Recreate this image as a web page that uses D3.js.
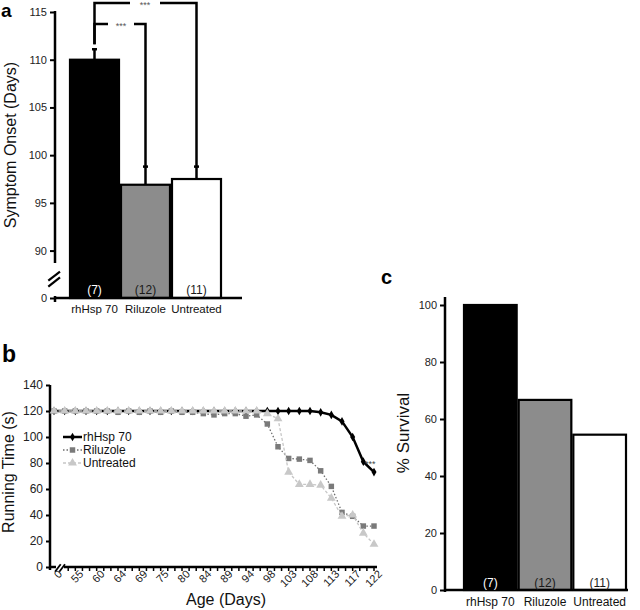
<!DOCTYPE html>
<html><head><meta charset="utf-8">
<script src="https://cdn.jsdelivr.net/npm/d3@7"></script>
<style>
body{margin:0;background:#fff}
svg{display:block}
text{font-family:"Liberation Sans",Arial,Helvetica,sans-serif}
</style>
</head><body>
<svg id="chart" width="640" height="610"></svg>
<script>
// ---------- DATA ----------
const groups = ["rhHsp 70", "Riluzole", "Untreated"];
const groupN = ["(7)", "(12)", "(11)"];
const onsetMean = [110, 96.9, 97.5];
const onsetSem = [1.1, 1.9, 1.3];
const onsetTicks = [0, 90, 95, 100, 105, 110, 115];
const survival = [100, 66.7, 54.5];
const survivalTicks = [0, 20, 40, 60, 80, 100];
const ageLabels = ["0","55","60","64","69","75","80","84","89","94","98","103","108","113","117","122"];
const runTicks = [0, 20, 40, 60, 80, 100, 120, 140];
const runHsp = [120,120,120,120,120,120,120,120,120,120,120,120,120,120,120,120,120,120,120,120,120,120,120,120,120,119,117,112,100,81,73];
const runRil = [120,120,120,120,120,120,119,120,119,120,119,120,119,119,118,117,118,118,116,117,110,92.5,83.5,83,82,74,62,42,39,31.5,31.5];
const runUnt = [120,120,120,120,120,120,120,120,120,120,120,120,120,120,120,120,120,120,120,120,118,114,73,63.5,63.5,63,53,39,40,26,17.5];
const seriesNames = ["rhHsp 70", "Riluzole", "Untreated"];

// ---------- STYLE ----------
const barFills = ["#000000", "#8c8c8c", "#ffffff"];
const nColors = ["#ffffff", "#1a1a1a", "#1a1a1a"];
const svg = d3.select("#chart");
const AXW = 2.5;

function styleAxis(g, fs) {
  g.select(".domain").remove();
  g.selectAll(".tick line").attr("stroke", "#000").attr("stroke-width", 2);
  g.selectAll(".tick text").attr("fill", "#222").style("font-size", fs + "px")
   .style("font-family", '"Liberation Sans",Arial,sans-serif');
}

// ================= PANEL A =================
const xa = d3.scaleBand().domain(groups).range([69, 222]).padding(0);
const ya = d3.scaleLinear().domain([0, 88.7, 115]).range([298, 263, 12]);
const ga = svg.append("g");

ga.selectAll("rect.bar").data(groups).join("rect")
  .attr("x", d => xa(d) + 1)
  .attr("width", xa.bandwidth() - 2)
  .attr("y", (d, i) => ya(onsetMean[i]))
  .attr("height", (d, i) => ya(0) - ya(onsetMean[i]))
  .attr("fill", (d, i) => barFills[i])
  .attr("stroke", "#000").attr("stroke-width", 2.2);

// error bars (upper only)
groups.forEach((g, i) => {
  const cx = xa(g) + xa.bandwidth() / 2;
  ga.append("line").attr("x1", cx).attr("x2", cx)
    .attr("y1", ya(onsetMean[i])).attr("y2", ya(onsetMean[i] + onsetSem[i]))
    .attr("stroke", "#000").attr("stroke-width", 2.5);
  ga.append("line").attr("x1", cx - 2.5).attr("x2", cx + 2.5)
    .attr("y1", ya(onsetMean[i] + onsetSem[i])).attr("y2", ya(onsetMean[i] + onsetSem[i]))
    .attr("stroke", "#000").attr("stroke-width", 2.5);
});

// significance brackets
const c0 = xa(groups[0]) + xa.bandwidth() / 2;
const sigLevels = [113.75, 115.95];
[1, 2].forEach((j, k) => {
  const cj = xa(groups[j]) + xa.bandwidth() / 2;
  const yl = ya(sigLevels[k]);
  const yb = ya(onsetMean[j] + onsetSem[j]);
  const mid = k === 0 ? 121 : 145;
  const gap = k === 0 ? 13 : 15;
  const p = d3.path();
  p.moveTo(c0, ya(onsetMean[0] + onsetSem[0]) - 5); p.lineTo(c0, yl); p.lineTo(mid - gap, yl);
  p.moveTo(mid + gap, yl); p.lineTo(cj, yl); p.lineTo(cj, yb);
  ga.append("path").attr("d", p.toString()).attr("fill", "none")
    .attr("stroke", "#000").attr("stroke-width", 2.5);
  ga.append("text").attr("x", mid).attr("y", yl).attr("dy", "0.55em")
    .attr("text-anchor", "middle").style("font-size", "9px").attr("fill", "#555").text("***");
});

// axes
ga.append("line").attr("x1", 55).attr("x2", 55).attr("y1", ya(115) - 1).attr("y2", ya(88.7)).attr("stroke", "#000").attr("stroke-width", AXW);
ga.append("line").attr("x1", 55).attr("x2", 55).attr("y1", ya(0) - 2).attr("y2", ya(0) + 4).attr("stroke", "#000").attr("stroke-width", AXW);
ga.append("line").attr("x1", 54).attr("x2", 242).attr("y1", ya(0)).attr("y2", ya(0)).attr("stroke", "#000").attr("stroke-width", AXW);
[[48.3, 286.7, 60, 277.3], [48.3, 280.7, 60, 271.7]].forEach(b => {
  ga.append("line").attr("x1", b[0]).attr("y1", b[1]).attr("x2", b[2]).attr("y2", b[3]).attr("stroke", "#000").attr("stroke-width", 2.2);
});
const axA = ga.append("g").attr("transform", "translate(55,0)")
  .call(d3.axisLeft(ya).tickValues(onsetTicks).tickSize(5).tickPadding(3).tickFormat(d3.format("d")));
styleAxis(axA, 11);

ga.selectAll("text.n").data(groupN).join("text").attr("class", "n")
  .attr("x", (d, i) => xa(groups[i]) + xa.bandwidth() / 2).attr("y", 290).attr("dy", "0.35em")
  .attr("text-anchor", "middle").style("font-size", "12px").attr("fill", (d, i) => nColors[i]).text(d => d);
ga.selectAll("text.cat").data(groups).join("text").attr("class", "cat")
  .attr("x", d => xa(d) + xa.bandwidth() / 2).attr("y", 313)
  .attr("text-anchor", "middle").style("font-size", "11.5px").attr("fill", "#111").text(d => d);
ga.append("text").attr("transform", "translate(15.5,145) rotate(-90)").attr("text-anchor", "middle")
  .style("font-size", "16px").attr("fill", "#111").text("Symptom Onset (Days)");
ga.append("text").attr("x", 1).attr("y", 17).style("font-size", "19px").style("font-weight", "bold").text("a");

// ================= PANEL B =================
const xb = d3.scaleLinear().domain([0, 30]).range([54, 374]);
const yb = d3.scaleLinear().domain([0, 140]).range([567, 385]);
const gb = svg.append("g");

gb.append("text").attr("x", 2).attr("y", 362).style("font-size", "23px").style("font-weight", "bold").text("b");

// axes
gb.append("line").attr("x1", 50).attr("x2", 50).attr("y1", yb(140)).attr("y2", yb(0) + 3).attr("stroke", "#000").attr("stroke-width", AXW);
gb.append("line").attr("x1", 49).attr("x2", 56).attr("y1", yb(0)).attr("y2", yb(0)).attr("stroke", "#000").attr("stroke-width", AXW);
gb.append("line").attr("x1", 64).attr("x2", 377).attr("y1", yb(0)).attr("y2", yb(0)).attr("stroke", "#000").attr("stroke-width", AXW);
[[55, 571.7, 60.7, 564.3], [59.3, 571.7, 65, 564.3]].forEach(b => {
  gb.append("line").attr("x1", b[0]).attr("y1", b[1]).attr("x2", b[2]).attr("y2", b[3]).attr("stroke", "#000").attr("stroke-width", 1.8);
});
const axB = gb.append("g").attr("transform", "translate(50,0)")
  .call(d3.axisLeft(yb).tickValues(runTicks).tickSize(4).tickPadding(3));
styleAxis(axB, 12);

// minor ticks on x axis
const minorTicks = d3.range(0, 44).map(j => 30 - j * 2 / 3);
gb.selectAll("line.mt").data(minorTicks).join("line").attr("class", "mt")
  .attr("x1", d => xb(d)).attr("x2", d => xb(d)).attr("y1", yb(0)).attr("y2", yb(0) + 4)
  .attr("stroke", "#000").attr("stroke-width", 1.5);
gb.selectAll("text.age").data(ageLabels).join("text").attr("class", "age")
  .attr("transform", (d, i) => `translate(${xb(i * 2) + 6},${yb(0) + 5}) rotate(-45)`)
  .attr("text-anchor", "end").attr("dy", "0.35em").style("font-size", "11px").attr("fill", "#222").text(d => d);
gb.append("text").attr("x", 226).attr("y", 605).attr("text-anchor", "middle")
  .style("font-size", "16px").attr("fill", "#111").text("Age (Days)");
gb.append("text").attr("transform", "translate(14,472) rotate(-90)").attr("text-anchor", "middle")
  .style("font-size", "16px").attr("fill", "#111").text("Running Time (s)");

const line = d3.line().x((d, i) => xb(i)).y(d => yb(d));
const seriesDefs = [
  { data: runHsp, stroke: "#000", sw: 2.5, dash: null, marker: "diamond", fill: "#000", size: 22 },
  { data: runRil, stroke: "#6e6e6e", sw: 1.3, dash: "1.5,2", marker: "square", fill: "#7a7a7a", size: 30 },
  { data: runUnt, stroke: "#c6c6c6", sw: 1.3, dash: "3,2", marker: "triangle", fill: "#c8c8c8", size: 34 }
];
const symMap = { diamond: d3.symbolDiamond, square: d3.symbolSquare, triangle: d3.symbolTriangle };
seriesDefs.forEach(s => {
  gb.append("path").attr("d", line(s.data)).attr("fill", "none").attr("stroke", s.stroke)
    .attr("stroke-width", s.sw).attr("stroke-dasharray", s.dash);
  gb.selectAll(null).data(s.data).join("path")
    .attr("transform", (d, i) => `translate(${xb(i)},${yb(d)})`)
    .attr("d", d3.symbol().type(symMap[s.marker]).size(s.size)).attr("fill", s.fill);
});
gb.append("text").attr("x", 365).attr("y", 462).attr("dy", "0.55em").style("font-size", "9px").attr("fill", "#444").text("***");

// legend
seriesDefs.forEach((s, k) => {
  const ly = 437 + k * 13;
  gb.append("line").attr("x1", 63).attr("x2", 82).attr("y1", ly).attr("y2", ly)
    .attr("stroke", s.stroke).attr("stroke-width", s.sw).attr("stroke-dasharray", s.dash);
  gb.append("path").attr("transform", `translate(72.5,${ly})`)
    .attr("d", d3.symbol().type(symMap[s.marker]).size(s.size)).attr("fill", s.fill);
  gb.append("text").attr("x", 83).attr("y", ly).attr("dy", "0.35em").style("font-size", "12px")
    .attr("fill", "#111").text(seriesNames[k]);
});

// ================= PANEL C =================
const xc = d3.scaleBand().domain(groups).range([463, 627]).padding(0);
const yc = d3.scaleLinear().domain([0, 100]).range([590, 305]);
const gc = svg.append("g");
gc.append("text").attr("x", 381).attr("y", 284).style("font-size", "20px").style("font-weight", "bold").text("c");

gc.selectAll("rect.bar").data(groups).join("rect")
  .attr("x", d => xc(d) + 1)
  .attr("width", xc.bandwidth() - 2)
  .attr("y", (d, i) => yc(survival[i]))
  .attr("height", (d, i) => yc(0) - yc(survival[i]))
  .attr("fill", (d, i) => barFills[i])
  .attr("stroke", "#000").attr("stroke-width", 2.2);

gc.append("line").attr("x1", 445).attr("x2", 445).attr("y1", 297).attr("y2", yc(0) + 2).attr("stroke", "#000").attr("stroke-width", AXW);
gc.append("line").attr("x1", 444).attr("x2", 628).attr("y1", yc(0)).attr("y2", yc(0)).attr("stroke", "#000").attr("stroke-width", AXW);
const axC = gc.append("g").attr("transform", "translate(445,0)")
  .call(d3.axisLeft(yc).tickValues(survivalTicks).tickSize(5).tickPadding(3));
styleAxis(axC, 11);

gc.selectAll("text.n").data(groupN).join("text").attr("class", "n")
  .attr("x", (d, i) => xc(groups[i]) + xc.bandwidth() / 2).attr("y", 583).attr("dy", "0.35em")
  .attr("text-anchor", "middle").style("font-size", "12px").attr("fill", (d, i) => nColors[i]).text(d => d);
gc.selectAll("text.cat").data(groups).join("text").attr("class", "cat")
  .attr("x", d => xc(d) + xc.bandwidth() / 2).attr("y", 606)
  .attr("text-anchor", "middle").style("font-size", "12px").attr("fill", "#111").text(d => d);
gc.append("text").attr("transform", "translate(409,433) rotate(-90)").attr("text-anchor", "middle")
  .style("font-size", "17px").attr("fill", "#111").text("% Survival");
</script>
</body></html>
